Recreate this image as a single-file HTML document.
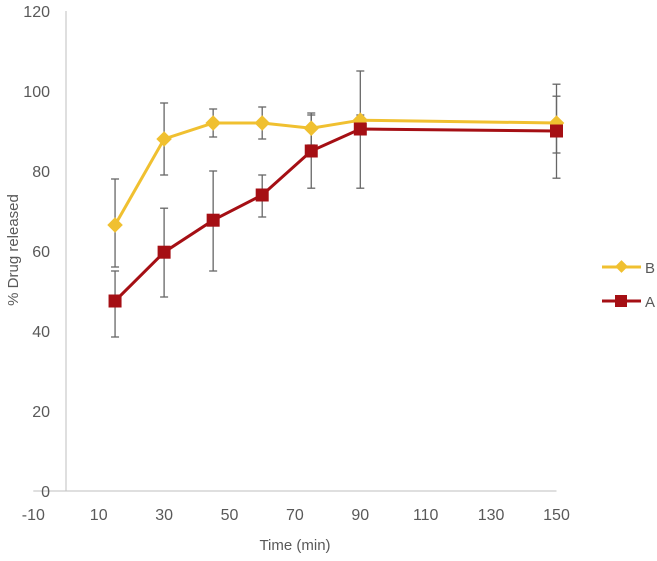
<!DOCTYPE html>
<html><head><meta charset="utf-8"><style>
body{margin:0;background:#fff}
svg text{font-family:"Liberation Sans",sans-serif;fill:#595959}
</style></head><body>
<svg width="657" height="556" xmlns="http://www.w3.org/2000/svg">
<g id="axes"></g>
<g id="plot"></g>
<g>
<g>
<line x1="602" y1="267" x2="641" y2="267" stroke="#F0C030" stroke-width="3"/>
<rect x="617" y="262" width="9" height="9" fill="#F0C030" transform="rotate(45 621.5 266.5)"/>
<text x="645" y="273" font-size="15">B</text></g>
<g>
<line x1="602" y1="301" x2="641" y2="301" stroke="#A50F14" stroke-width="3"/>
<rect x="615" y="295" width="12" height="12" fill="#A50F14"/>
<text x="645" y="307" font-size="15">A</text></g>
</g>
<text x="18" y="250" font-size="15" text-anchor="middle" transform="rotate(-90 18 250)">% Drug released</text>
<text x="295" y="550" font-size="15" text-anchor="middle">Time (min)</text>
</svg>
<script>
const times=[15,30,45,60,75,90,150];
const seriesB=[66.5,88,92,92,90.7,92.7,92];
const bUpper=[78,97,95.5,96,94.5,94,101.7];
const bLower=[56,79,88.5,88,86.5,91.5,84.5];
const seriesA=[47.5,59.7,67.7,74,85,90.5,90];
const aUpper=[55,70.7,80,79,94,105,98.7];
const aLower=[38.5,48.5,55,68.5,75.7,75.7,78.2];
const xTicks=[-10,10,30,50,70,90,110,130,150];
const yTicks=[0,20,40,60,80,100,120];
const NS="http://www.w3.org/2000/svg";
function X(t){return 66+(t)*3.27;}
function Y(v){return 491-v*4;}
function mk(tag,attrs,parent){const e=document.createElementNS(NS,tag);for(const k in attrs)e.setAttribute(k,attrs[k]);parent.appendChild(e);return e;}
const ax=document.getElementById('axes'),pl=document.getElementById('plot');
let l=mk('line',{x1:X(0),y1:Y(120),x2:X(0),y2:Y(0),stroke:'#BFBFBF','stroke-width':1},ax);


l=mk('line',{x1:X(-10),y1:Y(0),x2:X(150),y2:Y(0),stroke:'#BFBFBF','stroke-width':1},ax);


yTicks.forEach(v=>{const t=mk('text',{x:50,y:Y(v)+6,'font-size':16,'text-anchor':'end'},ax);t.textContent=v;

});
xTicks.forEach(v=>{const t=mk('text',{x:X(v),y:Y(0)+29,'font-size':16,'text-anchor':'middle'},ax);t.textContent=v;

});
function err(up,lo,name){times.forEach((t,i)=>{const g=mk('g',{stroke:'#666','stroke-width':1.3},pl);


mk('line',{x1:X(t),y1:Y(up[i]),x2:X(t),y2:Y(lo[i])},g);
mk('line',{x1:X(t)-4,y1:Y(up[i]),x2:X(t)+4,y2:Y(up[i])},g);
mk('line',{x1:X(t)-4,y1:Y(lo[i]),x2:X(t)+4,y2:Y(lo[i])},g);});}
err(bUpper,bLower,'error-bar-b');err(aUpper,aLower,'error-bar-a');
function line(vals,col,name){const p=mk('polyline',{points:times.map((t,i)=>X(t)+','+Y(vals[i])).join(' '),fill:'none',stroke:col,'stroke-width':3},pl);

}
line(seriesB,'#F0C030','line-b');line(seriesA,'#A50F14','line-a');
times.forEach((t,i)=>{const cx=X(t),cy=Y(seriesB[i]);
const r=mk('rect',{x:cx-5.5,y:cy-5.5,width:11,height:11,fill:'#F0C030',transform:`rotate(45 ${cx} ${cy})`},pl);


const cy2=Y(seriesA[i]);
const s=mk('rect',{x:cx-6.5,y:cy2-6.5,width:13,height:13,fill:'#A50F14'},pl);

});
</script>
</body></html>
